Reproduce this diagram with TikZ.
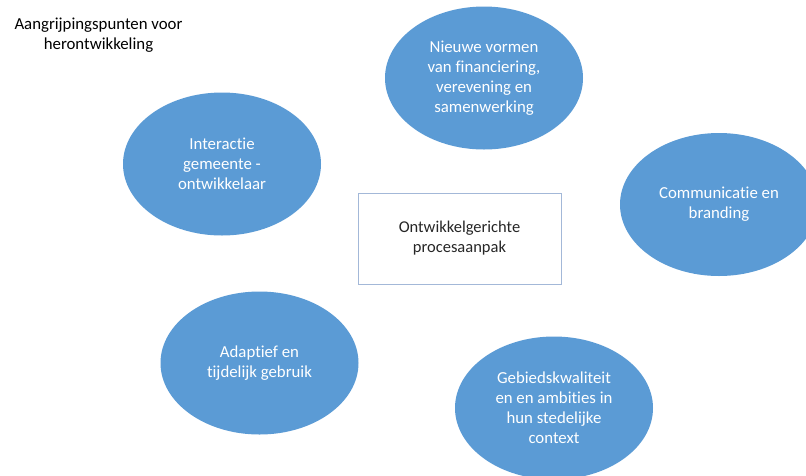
\documentclass[tikz,border=0pt]{standalone}
\usepackage{fontspec}
\setmainfont{Carlito}[Ligatures={NoCommon}]
\usetikzlibrary{shapes.geometric}
\definecolor{bubblefill}{HTML}{5B9BD5}
\definecolor{boxline}{HTML}{A3B8D8}
\definecolor{darktext}{HTML}{262626}
\tikzset{
  bubble/.style={ellipse, fill=bubblefill, draw=none, minimum width=198pt,
    minimum height=143pt, inner sep=0pt, text=white, align=center,
    font=\fontsize{16.8}{20}\selectfont},
  centerbox/.style={rectangle, draw=boxline, line width=0.8pt, fill=white,
    minimum width=203pt, minimum height=91pt, inner sep=0pt, text=darktext,
    align=center, font=\fontsize{16.5}{20}\selectfont},
  heading/.style={text=black, align=center, inner sep=0pt,
    font=\fontsize{16.8}{20}\selectfont}
}
\begin{document}
\begin{tikzpicture}[x=1pt,y=1pt]
  \useasboundingbox (0,0) rectangle (806,-475);
  \clip (0,0) rectangle (806,-475);
  \fill[white] (0,0) rectangle (806,-475);

  \node[heading] (title) at (98.5,-35) {Aangrijpingspunten voor\\herontwikkeling};

  \node[centerbox] (core) at (459.5,-238.5) {Ontwikkelgerichte\\procesaanpak};

  \node[bubble] (finance) at (484,-78) {Nieuwe vormen\\van financiering,\\verevening en\\samenwerking};
  \node[bubble] (interact) at (222,-164) {Interactie\\gemeente -\\ontwikkelaar};
  \node[bubble] (comm) at (719,-204.5) {Communicatie en\\branding};
  \node[bubble] (adapt) at (259.5,-363) {Adaptief en\\tijdelijk gebruik};
  \node[bubble] (quality) at (554,-408) {Gebiedskwaliteit\\en en ambities in\\hun stedelijke\\context};
\end{tikzpicture}
\end{document}
